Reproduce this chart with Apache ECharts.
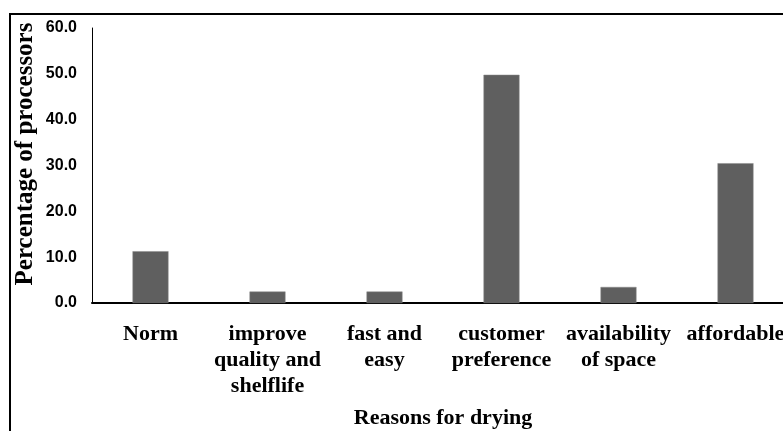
<!DOCTYPE html>
<html>
<head>
<meta charset="utf-8">
<script src="https://cdn.jsdelivr.net/npm/echarts@6/dist/echarts.min.js"></script>
<style>html,body{margin:0;padding:0;background:#fff;}#c{width:783px;height:431px;}</style>
</head>
<body>
<div id="c"></div>
<script>
const categories = ['Norm', 'improve\nquality and\nshelflife', 'fast and\neasy', 'customer\npreference', 'availability\nof space', 'affordable'];
const values = [11.3, 2.5, 2.5, 49.8, 3.5, 30.5];
const yTicks = [0, 10, 20, 30, 40, 50, 60];
const xTitle = 'Reasons for drying';
const yTitle = 'Percentage of processors';

const chart = echarts.init(document.getElementById('c'), null, {renderer: 'canvas'});
chart.setOption({
  animation: false,
  backgroundColor: '#ffffff',
  grid: {left: 92, top: 28, width: 702, height: 275, containLabel: false, outerBoundsMode: 'none'},
  graphic: [
    {type: 'polyline', shape: {points: [[10, 440], [10, 14], [800, 14]]}, style: {fill: 'none', stroke: '#000', lineWidth: 2}, silent: true},
    {type: 'text', x: 26, y: 154, rotation: Math.PI / 2, style: {text: yTitle, font: 'bold 25px "Liberation Serif"', fill: '#000', align: 'center', verticalAlign: 'middle'}}
  ],
  xAxis: {
    type: 'category',
    data: categories,
    name: xTitle,
    nameLocation: 'middle',
    nameGap: 104,
    nameTextStyle: {fontFamily: 'Liberation Serif', fontWeight: 'bold', fontSize: 22, color: '#000', verticalAlign: 'top'},
    axisLine: {lineStyle: {color: '#000', width: 2}},
    axisTick: {show: false},
    axisLabel: {interval: 0, hideOverlap: false, margin: 18, fontFamily: 'Liberation Serif', fontWeight: 'bold', fontSize: 22, lineHeight: 26, color: '#000', verticalAlign: 'top'}
  },
  yAxis: {
    type: 'value',
    min: yTicks[0],
    max: yTicks[yTicks.length - 1],
    interval: 10,
    axisLine: {show: true, lineStyle: {color: '#000', width: 1}},
    axisTick: {show: false},
    splitLine: {show: false},
    axisLabel: {margin: 15, fontFamily: 'Liberation Sans', fontWeight: 'bold', fontSize: 16, color: '#000', formatter: v => v.toFixed(1)}
  },
  series: [{
    type: 'bar',
    data: values,
    barWidth: 36,
    itemStyle: {color: '#5f5f5f', borderColor: '#8a8a8a', borderWidth: 0.5}
  }]
});
</script>
</body>
</html>
